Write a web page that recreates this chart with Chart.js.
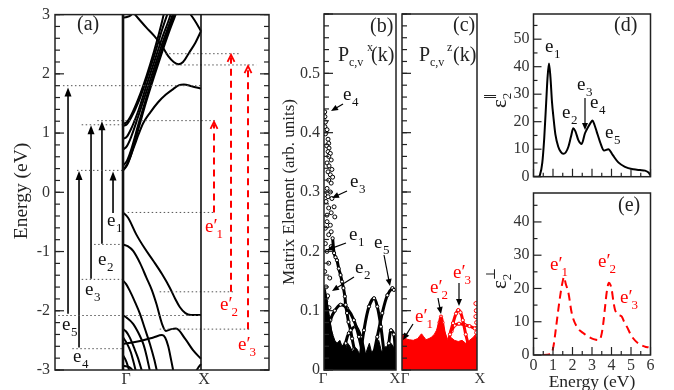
<!DOCTYPE html>
<html>
<head>
<meta charset="utf-8">
<script src="https://cdn.jsdelivr.net/npm/chart.js@4.4.1/dist/chart.umd.min.js"></script>
<style>
  body { margin: 0; background: #fff; }
  #wrap { position: relative; width: 674px; height: 390px; }
  canvas { position: absolute; left: 0; top: 0; }
</style>
</head>
<body>
<div id="wrap">
  <canvas id="panelA" width="674" height="390"></canvas>
  <canvas id="panelB" width="674" height="390"></canvas>
  <canvas id="panelC" width="674" height="390"></canvas>
  <canvas id="panelD" width="674" height="390"></canvas>
  <canvas id="panelE" width="674" height="390"></canvas>
</div>
<script>
// ---------- (a) band structure: k runs from Γ (0) to X (1), energy in eV ----------
const energyTicks = [-3, -2, -1, 0, 1, 2, 3];
const energyLabels = ['-3', '-2', '-1', '0', '1', '2', '3'];
const kTicks = [0, 1];
const kLabels = ['Γ', 'X'];

const conductionBands = [
  [[0, 0.37], [0.05, 0.47], [0.1, 0.62], [0.15, 0.8], [0.2, 0.98], [0.26, 1.17], [0.35, 1.35], [0.45, 1.52], [0.55, 1.65], [0.65, 1.75], [0.72, 1.81], [0.78, 1.82], [0.88, 1.79], [1, 1.75]],
  [[0, 1.15], [0.05, 1.19], [0.1, 1.29], [0.2, 1.59], [0.3, 1.96], [0.4, 2.39], [0.5, 2.88], [0.53, 3.05]],
  [[0, 1.12], [0.05, 1.15], [0.1, 1.25], [0.2, 1.53], [0.3, 1.9], [0.4, 2.3], [0.5, 2.74], [0.58, 3.05]],
  [[0, 0.9], [0.05, 0.94], [0.1, 1.06], [0.2, 1.39], [0.3, 1.8], [0.4, 2.2], [0.5, 2.6], [0.6, 2.96], [0.62, 3.05]],
  [[0, 0.72], [0.05, 0.78], [0.1, 0.92], [0.2, 1.3], [0.3, 1.7], [0.4, 2.1], [0.5, 2.5], [0.6, 2.86], [0.65, 3.05]],
  [[0, 0.45], [0.05, 0.53], [0.1, 0.7], [0.2, 1.16], [0.3, 1.6], [0.4, 2.02], [0.5, 2.42], [0.6, 2.8], [0.67, 3.05]],
  [[0, 0.37], [0.05, 0.45], [0.1, 0.62], [0.2, 1.08], [0.3, 1.54], [0.4, 1.96], [0.5, 2.36], [0.6, 2.74], [0.69, 3.05]],
  [[0, 2.95], [0.05, 2.96], [0.1, 2.99], [0.13, 3.05]],
  [[0.12, 3.05], [0.2, 2.93], [0.3, 2.78], [0.4, 2.64], [0.5, 2.47], [0.58, 2.3], [0.65, 2.2], [0.71, 2.16], [0.77, 2.2], [0.85, 2.36], [0.93, 2.53], [1, 2.72]],
  [[0.84, 3.05], [0.92, 2.9], [1, 2.72]]
];

const valenceBands = [
  [[0, -0.34], [0.065, -0.43], [0.17, -0.71], [0.28, -0.95], [0.39, -1.16], [0.5, -1.38], [0.6, -1.61], [0.67, -1.8], [0.73, -1.94], [0.8, -2.04], [0.87, -2.07], [1, -2.07]],
  [[0, -0.88], [0.06, -0.91], [0.13, -0.99], [0.22, -1.2], [0.3, -1.44], [0.37, -1.65], [0.43, -1.89], [0.5, -2.22], [0.55, -2.34], [0.62, -2.31], [0.68, -2.3], [0.8, -2.48], [0.9, -2.67], [1, -2.81]],
  [[0, -1.49], [0.04, -1.55], [0.086, -1.66], [0.15, -1.84], [0.22, -2.06], [0.28, -2.3], [0.345, -2.56], [0.4, -2.82], [0.44, -3.05]],
  [[0, -2.56], [0.1, -2.54], [0.22, -2.51], [0.39, -2.45], [0.5, -2.41], [0.54, -2.45], [0.58, -2.6], [0.62, -2.85], [0.65, -3.05]],
  [[0, -2.08], [0.05, -2.12], [0.13, -2.22], [0.2, -2.38], [0.26, -2.56], [0.3, -2.75], [0.35, -3.05]],
  [[0, -2.31], [0.04, -2.35], [0.086, -2.45], [0.14, -2.62], [0.19, -2.79], [0.25, -3.05]],
  [[0, -2.45], [0.05, -2.55], [0.1, -2.7], [0.13, -2.84], [0.17, -3.05]],
  [[0, -2.75], [0.04, -2.85], [0.09, -3.05]],
  [[0, -2.93], [0.05, -2.94], [0.1, -2.97], [0.15, -3.05]],
  [[0.92, -3.05], [0.96, -2.97], [1, -2.9]]
];

// in-plane transitions e5, e4, e3, e2, e1 (k position, from, to)
const transK = [-0.705, -0.564, -0.41, -0.27, -0.128];
const transFrom = [-2.05, -2.62, -1.46, -0.87, -0.35];
const transTo = [1.77, 0.36, 1.13, 1.2, 0.35];
// out-of-plane transitions e'1, e'2, e'3
const transKz = [1.167, 1.385, 1.603];
const transFromZ = [-0.34, -1.68, -2.31];
const transToZ = [1.19, 2.32, 2.13];

// dotted level guides: energy, k start, k end
const levelE = [1.8, 1.21, 1.14, 0.37, 2.34, 2.15, -0.34, -0.88, -1.47, -1.68, -2.08, -2.31, -2.64];
const levelK0 = [-0.77, -0.33, -0.53, -0.59, 0.54, 0.58, 0.06, -0.37, -0.53, 0.47, -0.83, 0.47, -0.65];
const levelK1 = [1.0, 1.18, 0, 0, 1.49, 1.71, 1.18, 0, 0, 1.41, 1.0, 1.65, 0];

// ---------- (b), (c) matrix elements ----------
const matrixTicks = [0, 0.1, 0.2, 0.3, 0.4, 0.5];
const matrixLabels = ['0', '0.1', '0.2', '0.3', '0.4', '0.5'];

const pxGammaCloud = [[.01, .435], [.013, .427], [.02, .418], [.013, .41], [.042, .405], [.02, .398], [.056, .389], [.065, .382], [.037, .378], [.07, .374], [.056, .368], [.088, .365], [.065, .36], [.1, .354], [.042, .349], [.07, .344], [.11, .338], [.056, .334], [.088, .329], [.12, .325], [.065, .32], [.1, .315], [.042, .306], [.088, .3], [.01, .295], [.056, .292], [.11, .289], [.028, .284], [.14, .275], [.065, .273], [.1, .265], [.15, .258], [.042, .261], [.042, .25], [.088, .244], [.019, .239], [.1, .233], [.065, .228], [.019, .213], [.1, .208], [.042, .2], [.065, .18], [.009, .166], [.08, .155], [.028, .14], [.05, .125], [.015, .115], [.07, .105], [.03, .095]];
const pxChains = [
  [[.12, .222], [.14, .197], [.16, .19], [.18, .185], [.205, .171], [.23, .16], [.25, .149], [.27, .138], [.29, .124], [.3, .11], [.32, .096], [.34, .081], [.37, .067], [.39, .053], [.42, .035], [.45, .015]],
  [[.04, .06], [.088, .084], [.15, .1], [.23, .11], [.32, .104], [.415, .084], [.485, .056], [.555, .017]],
  [[.25, .017], [.3, .045], [.345, .062], [.44, .073], [.51, .056], [.58, .017]],
  [[.5, .02], [.555, .067], [.625, .107], [.695, .121], [.74, .107], [.79, .073], [.835, .028]],
  [[.62, .0], [.67, .017], [.74, .056], [.81, .096], [.88, .126], [.95, .138], [.97, .135]],
  [[.86, .02], [.9, .045], [.93, .067], [.97, .06], [.99, .03]],
  [[0, .13], [.03, .115], [.06, .09], [.1, .06], [.14, .03]]
];
const pxFloor = [[0, .14], [.02, .135], [.04, .12], [.06, .1], [.08, .085], [.1, .07], [.12, .06], [.15, .05], [.18, .045], [.22, .05], [.25, .04], [.28, .045], [.3, .035], [.33, .045], [.36, .04], [.4, .03], [.43, .038], [.46, .035], [.5, .025], [.53, .03], [.56, .02], [.6, .035], [.63, .045], [.66, .03], [.7, .035], [.73, .045], [.76, .05], [.8, .03], [.83, .035], [.86, .04], [.9, .035], [.93, .045], [.96, .04], [1, .03]];

const pzFloor = [[0, .06], [.03, .058], [.06, .052], [.1, .051], [.15, .05], [.21, .053], [.24, .058], [.26, .061], [.29, .056], [.32, .051], [.36, .053], [.39, .055], [.43, .06], [.46, .067], [.49, .08], [.52, .09], [.545, .078], [.57, .065], [.61, .051], [.65, .055], [.7, .05], [.75, .048], [.8, .05], [.85, .045], [.9, .05], [.95, .055], [.98, .06], [1, .05]];
const pzChains = [
  [[.6, .03], [.64, .06], [.68, .079], [.72, .095], [.75, .101], [.78, .097], [.81, .084], [.85, .06], [.89, .039], [.92, .02]],
  [[.66, .065], [.7, .075], [.76, .078], [.836, .076], [.9, .074], [.97, .07]],
  [[.47, .055], [.5, .08], [.52, .09], [.54, .08], [.57, .055]]
];
const pzEdge = [[.985, .112], [.99, .1], [.985, .09], [.995, .08], [.99, .07], [.995, .063]];

// ---------- (d), (e) imaginary dielectric function ----------
const photonTicks = [0, 1, 2, 3, 4, 5, 6];
const photonLabels = ['0', '1', '2', '3', '4', '5', '6'];
const epsParTicks = [0, 10, 20, 30, 40, 50];
const epsParLabels = ['0', '10', '20', '30', '40', '50'];
const epsPerpTicks = [0, 10, 20, 30, 40];
const epsPerpLabels = ['0', '10', '20', '30', '40'];

const epsPar = [[0, 0], [0.25, 0], [0.33, 0.6], [0.45, 5], [0.55, 14], [0.65, 27], [0.72, 36], [0.795, 41.2], [0.87, 36], [0.95, 27], [1.02, 21.8], [1.12, 15.5], [1.27, 10.9], [1.4, 9], [1.53, 8.3], [1.65, 8.8], [1.79, 10.9], [1.92, 14.5], [2.04, 17.6], [2.15, 16.5], [2.3, 13.3], [2.47, 11.9], [2.64, 15.8], [2.81, 18.2], [2.92, 19.5], [3.03, 20.4], [3.13, 18.8], [3.24, 16.4], [3.41, 12.7], [3.62, 9.5], [3.84, 10], [4.06, 7.9], [4.35, 5.2], [4.69, 3.6], [5.12, 2.7], [5.46, 2.4], [5.72, 2.2], [5.9, 1.5], [6, 0.5]];
const epsPerp = [[0.45, 0], [0.9, 0.3], [1.02, 2.5], [1.15, 8], [1.27, 13.6], [1.4, 19], [1.5, 22.2], [1.56, 23.5], [1.65, 21.5], [1.79, 18.7], [1.96, 12.6], [2.21, 8.6], [2.55, 6.6], [2.98, 5.0], [3.2, 4.6], [3.38, 4.5], [3.5, 6.5], [3.58, 9.6], [3.68, 15], [3.75, 18.7], [3.87, 21.7], [3.95, 21], [4.01, 19.7], [4.1, 16], [4.18, 13.6], [4.35, 12.1], [4.52, 11.6], [4.65, 10], [4.78, 8.6], [5.04, 5.6], [5.37, 3.5], [5.72, 2.5], [5.9, 2.3]];

// ---------- helpers ----------
const SERIF = '"Liberation Serif", "DejaVu Serif", serif';
const RED = '#ff0000';
const pts = arr => arr.map(p => ({ x: p[0], y: p[1] }));
const range = (a, b, s) => { const r = []; for (let v = a; v <= b + 1e-9; v += s) r.push(+v.toFixed(4)); return r; };

function curve(arr, color, width, extra) {
  return Object.assign({
    data: pts(arr), borderColor: color, borderWidth: width, pointRadius: 0,
    fill: false, tension: 0, cubicInterpolationMode: 'monotone'
  }, extra || {});
}
function segment(x0, y0, x1, y1, color, width, dash) {
  return {
    data: [{ x: x0, y: y0 }, { x: x1, y: y1 }], borderColor: color, borderWidth: width,
    borderDash: dash || [], pointRadius: 0, fill: false, tension: 0
  };
}

// axis box size is fixed so that the plot area lands where the reference has it
function axis(kind, min, max, values, labels, padding, boxSize, shift) {
  return {
    type: 'linear', min: min, max: max,
    afterBuildTicks: s => { s.ticks = values.map(v => ({ value: v })); },
    afterFit: s => { if (kind === 'x') s.height = boxSize; else s.width = boxSize; },
    grid: { display: false, drawTicks: false },
    border: { display: false },
    ticks: {
      display: !!labels, autoSkip: false, maxRotation: 0, padding: padding,
      labelOffset: shift || 0,
      color: '#333', font: { family: SERIF, size: kind === 'x' && max === 1 ? 15 : 16 },
      callback: (v, i) => labels ? labels[i] : ''
    }
  };
}

function txt(ctx, s, x, y, size, color, align) {
  ctx.font = size + 'px ' + SERIF;
  ctx.fillStyle = color || '#222';
  ctx.textAlign = align || 'left';
  ctx.textBaseline = 'alphabetic';
  ctx.fillText(s, x, y);
  return ctx.measureText(s).width;
}
function eLabel(ctx, x, y, sub, red) {
  const col = red ? RED : '#111';
  const w = txt(ctx, red ? 'e\u2032' : 'e', x, y, 19, col);
  txt(ctx, sub, x + w + (red ? -1 : 0.5), y + 6, 13, col);
}
function pointer(ctx, x0, y0, x1, y1) {
  const a = Math.atan2(y1 - y0, x1 - x0);
  ctx.save();
  ctx.strokeStyle = '#000'; ctx.fillStyle = '#000'; ctx.lineWidth = 1.2;
  ctx.beginPath(); ctx.moveTo(x0, y0); ctx.lineTo(x1 - 4 * Math.cos(a), y1 - 4 * Math.sin(a)); ctx.stroke();
  ctx.beginPath(); ctx.moveTo(x1, y1);
  ctx.lineTo(x1 - 7 * Math.cos(a) + 3 * Math.sin(a), y1 - 7 * Math.sin(a) - 3 * Math.cos(a));
  ctx.lineTo(x1 - 7 * Math.cos(a) - 3 * Math.sin(a), y1 - 7 * Math.sin(a) + 3 * Math.cos(a));
  ctx.closePath(); ctx.fill();
  ctx.restore();
}
function vText(ctx, s, x, y, size) {
  ctx.save(); ctx.translate(x, y); ctx.rotate(-Math.PI / 2);
  ctx.font = size + 'px ' + SERIF; ctx.fillStyle = '#222';
  ctx.textAlign = 'center'; ctx.textBaseline = 'middle';
  ctx.fillText(s, 0, 0); ctx.restore();
}
function epsTitle(ctx, x, y, sup) {
  ctx.save(); ctx.translate(x, y); ctx.rotate(-Math.PI / 2);
  const w = txt(ctx, 'ε', 0, 0, 21, '#222');
  txt(ctx, '2', w, 5, 13, '#222');
  txt(ctx, sup, w, -11, 13, '#222');
  ctx.restore();
}

// frame plus inward tick marks, drawn on top of the data
function frame(spec, extra) {
  return {
    id: 'frame',
    afterDatasetsDraw(chart) {
      const { ctx, chartArea: a, scales } = chart;
      ctx.save();
      ctx.strokeStyle = '#222'; ctx.lineWidth = 1.5;
      ctx.strokeRect(a.left, a.top, a.right - a.left, a.bottom - a.top);
      ctx.lineWidth = 1.2;
      spec.forEach(t => {
        t.values.forEach(v => {
          ctx.beginPath();
          if (t.side === 'left' || t.side === 'right') {
            const y = scales.y.getPixelForValue(v);
            const x0 = t.side === 'left' ? a.left : a.right;
            const dir = t.side === 'left' ? 1 : -1;
            ctx.moveTo(x0, y); ctx.lineTo(x0 + dir * t.len, y);
          } else {
            const x = scales.x.getPixelForValue(v);
            ctx.moveTo(x, a.bottom); ctx.lineTo(x, a.bottom - t.len);
          }
          ctx.stroke();
        });
      });
      ctx.restore();
      if (extra) extra(chart);
    }
  };
}

function makeChart(id, pad, xs, ys, datasets, plugins) {
  return new Chart(document.getElementById(id), {
    type: 'line',
    data: { datasets: datasets },
    options: {
      responsive: false, animation: false, events: [],
      layout: { padding: pad },
      plugins: { legend: { display: false }, tooltip: { enabled: false } },
      scales: { x: xs, y: ys }
    },
    plugins: plugins
  });
}

// ---------- panel (a) ----------
const dsA = [];
levelE.forEach((e, i) => dsA.push(segment(levelK0[i], e, levelK1[i], e, '#555', 1, [1.5, 2.5])));
conductionBands.forEach(b => dsA.push(curve(b, '#000', 2)));
valenceBands.forEach(b => dsA.push(curve(b, '#000', 2)));
transK.forEach((k, i) => dsA.push(segment(k, transFrom[i], k, transTo[i] - 0.08, '#000', 1.6)));
transKz.forEach((k, i) => dsA.push(segment(k, transFromZ[i], k, transToZ[i] - 0.04, RED, 2, [7, 5])));

makeChart('panelA', { left: 0, top: 14, right: 405, bottom: 0 },
  axis('x', -0.872, 1.872, kTicks, kLabels, 0, 20, 3),
  axis('y', -3, 3, energyTicks, energyLabels, 5, 55),
  dsA,
  [frame([
    { side: 'left', values: energyTicks, len: 9 },
    { side: 'left', values: range(-3, 3, 0.2), len: 5 },
    { side: 'right', values: energyTicks, len: 9 },
    { side: 'right', values: range(-3, 3, 0.2), len: 5 }
  ], chart => {
    const { ctx, scales: { x, y }, chartArea: a } = chart;
    ctx.save();
    ctx.strokeStyle = '#111';
    ctx.lineWidth = 2.6;
    ctx.beginPath(); ctx.moveTo(x.getPixelForValue(0), a.top); ctx.lineTo(x.getPixelForValue(0), a.bottom); ctx.stroke();
    ctx.lineWidth = 1.6;
    ctx.beginPath(); ctx.moveTo(x.getPixelForValue(1), a.top); ctx.lineTo(x.getPixelForValue(1), a.bottom); ctx.stroke();
    // arrow heads
    ctx.fillStyle = '#000';
    transK.forEach((k, i) => {
      const px = x.getPixelForValue(k), py = y.getPixelForValue(transTo[i]);
      ctx.beginPath(); ctx.moveTo(px, py); ctx.lineTo(px - 3.5, py + 9); ctx.lineTo(px + 3.5, py + 9); ctx.closePath(); ctx.fill();
    });
    ctx.strokeStyle = RED; ctx.lineWidth = 1.8;
    transKz.forEach((k, i) => {
      const px = x.getPixelForValue(k), py = y.getPixelForValue(transToZ[i]);
      ctx.beginPath(); ctx.moveTo(px - 3.5, py + 7); ctx.lineTo(px, py); ctx.lineTo(px + 3.5, py + 7); ctx.stroke();
    });
    ctx.restore();
    txt(ctx, '(a)', 77, 30, 20, '#222');
    vText(ctx, 'Energy (eV)', 22, 191, 19.5);
    eLabel(ctx, 107, 226, '1'); eLabel(ctx, 98, 265, '2'); eLabel(ctx, 85, 295, '3');
    eLabel(ctx, 62, 330, '5'); eLabel(ctx, 73, 362, '4');
    eLabel(ctx, 205, 232, '1', true); eLabel(ctx, 220, 310, '2', true); eLabel(ctx, 238, 350, '3', true);
  })]);

// ---------- panel (b) ----------
const openDot = { showLine: false, pointRadius: 2, pointBorderWidth: 1, pointBackgroundColor: '#fff' };
const dsB = [curve(pxFloor, '#000', 1, { fill: 'origin', backgroundColor: '#000', cubicInterpolationMode: 'default' })];
pxChains.forEach(c => dsB.push(curve(c, '#000', 3, { pointRadius: 1.6, pointBorderWidth: 1, pointBorderColor: '#000', pointBackgroundColor: '#fff', tension: 0.35, cubicInterpolationMode: 'default' })));
dsB.push(curve(pxGammaCloud, '#000', 1, Object.assign({ pointBorderColor: '#000' }, openDot)));

makeChart('panelB', { left: 0, top: 14, right: 278, bottom: 0 },
  axis('x', 0, 1, kTicks, kLabels, 0, 20, -1),
  axis('y', 0, 0.6, matrixTicks, matrixLabels, 4, 324),
  dsB,
  [frame([
    { side: 'left', values: range(0, 0.6, 0.1), len: 9 },
    { side: 'left', values: range(0, 0.6, 0.02), len: 5 }
  ], chart => {
    const ctx = chart.ctx;
    txt(ctx, '(b)', 370, 32, 20, '#222');
    txt(ctx, 'P', 338, 61, 20, '#222');
    txt(ctx, 'c,v', 349, 66, 12, '#222');
    txt(ctx, 'x', 367, 51, 12, '#222');
    txt(ctx, '(k)', 371, 61, 20, '#222');
    vText(ctx, 'Matrix Element (arb. units)', 290, 192, 17);
    eLabel(ctx, 343, 100, '4'); pointer(ctx, 343, 104, 331, 111);
    eLabel(ctx, 350, 187, '3'); pointer(ctx, 347, 191, 332, 198);
    eLabel(ctx, 349, 240, '1'); pointer(ctx, 346, 243, 327, 250);
    eLabel(ctx, 355, 273, '2'); pointer(ctx, 354, 277, 332, 291);
    eLabel(ctx, 374, 248, '5'); pointer(ctx, 384, 255, 390, 286);
  })]);

// ---------- panel (c) ----------
const dsC = [curve(pzFloor, RED, 1, { fill: 'origin', backgroundColor: RED, cubicInterpolationMode: 'default' })];
pzChains.forEach(c => dsC.push(curve(c, RED, 3, { pointRadius: 1.6, pointBorderWidth: 1, pointBorderColor: RED, pointBackgroundColor: '#fff', tension: 0.35, cubicInterpolationMode: 'default' })));
dsC.push(curve(pzEdge, RED, 1, Object.assign({ pointBorderColor: RED }, openDot)));

makeChart('panelC', { left: 0, top: 14, right: 197, bottom: 0 },
  axis('x', 0, 1, kTicks, kLabels, 0, 20, 3),
  axis('y', 0, 0.6, matrixTicks, null, 4, 402),
  dsC,
  [frame([
    { side: 'left', values: range(0, 0.6, 0.1), len: 9 },
    { side: 'left', values: range(0, 0.6, 0.02), len: 5 }
  ], chart => {
    const ctx = chart.ctx;
    txt(ctx, '(c)', 453, 31, 20, '#222');
    txt(ctx, 'P', 419, 61, 20, '#222');
    txt(ctx, 'c,v', 430, 66, 12, '#222');
    txt(ctx, 'z', 447, 51, 12, '#222');
    txt(ctx, '(k)', 453, 61, 20, '#222');
    eLabel(ctx, 415, 322, '1', true); pointer(ctx, 413, 324, 403, 340);
    eLabel(ctx, 430, 293, '2', true); pointer(ctx, 438, 298, 441, 314);
    eLabel(ctx, 453, 278, '3', true); pointer(ctx, 459, 283, 459, 306);
  })]);

// ---------- panel (d) ----------
makeChart('panelD', { left: 0, top: 14, right: 23.5, bottom: 0 },
  axis('x', 0, 6, photonTicks, null, 0, 213.3),
  axis('y', 0, 59.16, epsParTicks, epsParLabels, 4, 533.5),
  [curve(epsPar, '#000', 2)],
  [frame([
    { side: 'left', values: range(0, 55, 10), len: 8 },
    { side: 'left', values: range(5, 55, 10), len: 4 },
    { side: 'bottom', values: photonTicks, len: 8 },
    { side: 'bottom', values: range(0.5, 5.5, 1), len: 4 }
  ], chart => {
    const ctx = chart.ctx;
    txt(ctx, '(d)', 614, 31, 20, '#222');
    epsTitle(ctx, 506, 108, '\u2225');
    eLabel(ctx, 545, 52, '1'); eLabel(ctx, 562, 118, '2'); eLabel(ctx, 577, 90, '3');
    eLabel(ctx, 590, 108, '4'); eLabel(ctx, 605, 138, '5');
    pointer(ctx, 585, 98, 585, 130);
  })]);

// ---------- panel (e) ----------
makeChart('panelE', { left: 0, top: 193, right: 23.5, bottom: 0 },
  axis('x', 0, 6, photonTicks, photonLabels, 1, 35),
  axis('y', 0, 48.7, epsPerpTicks, epsPerpLabels, 4, 533.5),
  [curve(epsPerp, RED, 2, { borderDash: [8, 5] })],
  [frame([
    { side: 'left', values: range(0, 45, 10), len: 8 },
    { side: 'left', values: range(5, 45, 10), len: 4 },
    { side: 'bottom', values: photonTicks, len: 8 },
    { side: 'bottom', values: range(0.5, 5.5, 1), len: 4 }
  ], chart => {
    const ctx = chart.ctx;
    txt(ctx, '(e)', 618, 211, 20, '#222');
    epsTitle(ctx, 506, 289, '\u22A5');
    txt(ctx, 'Energy (eV)', 592, 387, 17.5, '#222', 'center');
    eLabel(ctx, 550, 270, '1', true); eLabel(ctx, 598, 267, '2', true); eLabel(ctx, 620, 303, '3', true);
  })]);
</script>
</body>
</html>
